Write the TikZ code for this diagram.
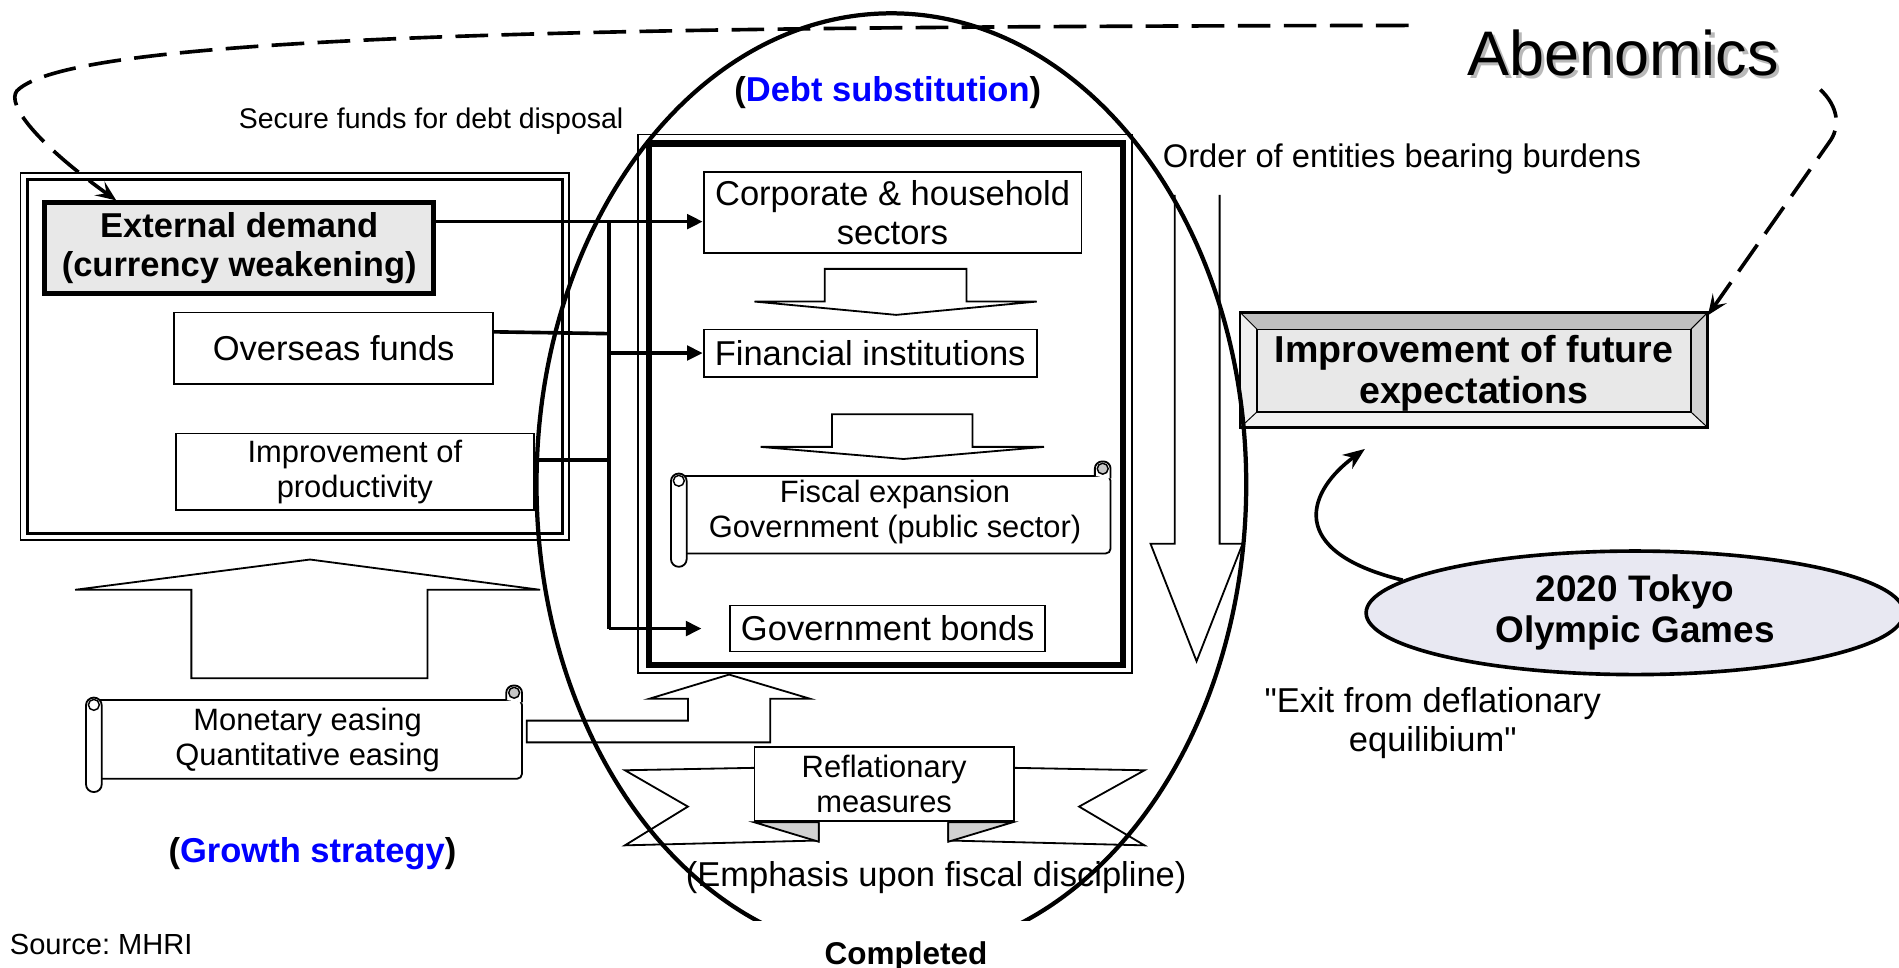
\documentclass[tikz,border=0pt]{standalone}
\usepackage{fontspec}
\setmainfont{Liberation Sans}
\newfontfamily\rawfont{Liberation Sans}[Ligatures=TeXOff]
\usetikzlibrary{arrows.meta,calc,shapes.geometric}

\definecolor{boxgray}{RGB}{232,232,232}
\definecolor{ovalfill}{RGB}{232,232,242}
\definecolor{bluetext}{RGB}{0,0,255}

\newcommand\sizeL{\fontsize{28.5}{32}\selectfont}
\newcommand\sizeM{\fontsize{25.5}{29}\selectfont}
\newcommand\sizeS{\fontsize{23.5}{27}\selectfont}

% horizontal scroll: left, top, right, bottom
\newcommand\drawscroll[4]{%
  \draw[line width=1.5pt, fill=white, rounded corners=4pt]
    (#1+6,#2) -- (#3,#2) -- (#3,#4) -- (#1+6,#4);
  \draw[line width=1.5pt, fill=white, rounded corners=6pt]
    (#3-13,#2) -- (#3-13,#2-12) -- (#3,#2-12) -- (#3,#2+2);
  \draw[line width=1.2pt, fill=gray!45] (#3-6.5,#2-6) circle[radius=4.5pt];
  \draw[line width=1.5pt, fill=white, rounded corners=6.4pt]
    (#1,#2-2) rectangle (#1+13,#4+11);
  \draw[line width=1.2pt] (#1+6.5,#2+4) circle[radius=4.5pt];
}

\begin{document}
\frenchspacing
\begin{tikzpicture}[x=1pt,y=-1pt,
  plainbox/.style={draw, line width=1.5pt, fill=white, inner sep=0pt, align=center, font=\sizeL},
  txt/.style={inner sep=0pt, font=\sizeL},
  conn/.style={line width=3pt, -{Triangle[length=13pt,width=12pt]}},
  bus/.style={line width=3pt},
  hollow/.style={draw, line width=1.5pt, fill=white, line join=miter},
  dashconn/.style={line width=3pt, dash pattern=on 27pt off 11pt,
    -{Stealth[length=17pt,width=14pt,inset=7pt]}},
]
\useasboundingbox (0,0) rectangle (1568,799);
\fill[white] (0,0) rectangle (1568,799);

% ---- frames ----
\draw[line width=1.5pt] (17,143) rectangle (470,446);
\draw[line width=2.5pt] (22.5,148.5) rectangle (464.5,440.5);
\draw[line width=1.5pt] (527,111) rectangle (935,556);
\draw[line width=5pt] (535.5,118.5) rectangle (927.5,549);

% ---- left group ----
\node[plainbox, line width=4pt, fill=boxgray, minimum width=321pt, minimum height=75pt,
      font=\sizeL\bfseries] (ext) at (197.5,205) {External demand\\(currency weakening)};
\node[plainbox, minimum width=263pt, minimum height=59pt] (ovs) at (275.5,287.5) {Overseas funds};
\node[plainbox, minimum width=296pt, minimum height=63pt, font=\sizeM] (prod) at (293,389.5)
      {Improvement of\\productivity};

% ---- central column ----
\node[plainbox, minimum width=312pt, minimum height=67pt] (corp) at (737,175.5)
      {Corporate \& household\\sectors};
\node[plainbox, minimum width=275pt, minimum height=39pt] (fin) at (718.5,291.5) {Financial institutions};
\node[plainbox, minimum width=260pt, minimum height=38pt] (bonds) at (733,519) {Government bonds};

\draw[hollow] (681,222) -- (798,222) -- (798,249) -- (856,249) -- (740,260)
  -- (623,249) -- (681,249) -- cycle;
\draw[hollow] (687,342) -- (803,342) -- (803,369) -- (862,369) -- (746,379)
  -- (628,369) -- (687,369) -- cycle;

\drawscroll{554}{393}{917}{457}
\node[txt, align=center, font=\sizeM] (fisc) at (739,423) {Fiscal expansion\\Government (public sector)};

% ---- big up arrow below the left frame ----
\draw[hollow] (158,560) -- (158,487) -- (62,487) -- (256,462) -- (446,487)
  -- (353,487) -- (353,560) -- cycle;

% ---- monetary easing scroll and its elbow arrow ----
\drawscroll{71}{578}{431}{643}
\node[txt, align=center, font=\sizeM] (mon) at (254,611) {Monetary easing\\Quantitative easing};
\draw[hollow] (435,595) -- (568,595) -- (568,577) -- (536,577) -- (602,557)
  -- (669,577) -- (636,577) -- (636,613) -- (435,613) -- cycle;

% ---- reflationary ribbon ----
\draw[hollow] (623,634) -- (516,636) -- (568,666) -- (516,698) -- (676,694) -- (676,679);
\draw[hollow] (837,634) -- (945,636) -- (891,666) -- (945,698) -- (783,694) -- (783,679);
\draw[line width=1.5pt, fill=gray!35] (623,679) -- (676,679) -- (676,695) -- cycle;
\draw[line width=1.5pt, fill=gray!35] (783,679) -- (836,679) -- (783,695) -- cycle;
\node[plainbox, font=\sizeM, minimum width=214pt, minimum height=61pt] (refl) at (730,647.5)
      {Reflationary\\measures};

% ---- burden order arrow ----
\draw[line width=1.5pt, fill=white] (970,161) -- (970,449) -- (950,449) -- (988,546)
  -- (1026,449) -- (1007,449) -- (1007,161);

% ---- future expectations (bevelled) ----
\fill[gray!12] (1024,258) rectangle (1410,353);
\fill[gray!50] (1024,258) -- (1410,258) -- (1396,272) -- (1038,272) -- cycle;
\fill[gray!35] (1410,258) -- (1410,353) -- (1396,340) -- (1396,272) -- cycle;
\draw[line width=0.8pt] (1024,258) -- (1038,272) (1410,258) -- (1396,272)
  (1024,353) -- (1038,340) (1410,353) -- (1396,340);
\draw[line width=1.5pt, fill=boxgray] (1038,272) rectangle (1396,340);
\draw[line width=2pt] (1024,258) rectangle (1410,353);
\node[txt, align=center, font=\fontsize{31}{34}\selectfont\bfseries,
      minimum width=386pt, minimum height=95pt] (future) at (1217,308)
      {Improvement of future\\expectations};

% ---- Olympic oval ----
\node[ellipse, draw, line width=3pt, fill=ovalfill, minimum width=444pt, minimum height=102pt,
      inner sep=0pt, align=center, font=\fontsize{30.5}{34}\selectfont\bfseries]
      (oly) at (1350,506) {2020 Tokyo\\Olympic Games};
\draw[line width=3pt, -{Stealth[length=18pt,width=14pt]}]
  (oly.172) .. controls (1060,455) and (1080,405) .. ([xshift=-90pt,yshift=-15pt]future.south);

% ---- connectors of the left group ----
\coordinate (busTop) at (503,183);
\coordinate (busBot) at (503,519);
\draw[conn] ([yshift=22pt]ext.east) -- (busTop -| corp.west);
\draw[bus] (busTop) -- (busBot);
\draw[conn] (busTop |- fin.west) -- (fin.west);
\draw[conn] (busBot) -- ([xshift=-23pt]bonds.west);
\draw[bus] ([yshift=13.5pt]ovs.east) -- ++(96,1.5);
\draw[bus] ([yshift=9.5pt]prod.east) -- ++(62,0);

% ---- free texts ----
\node[txt, anchor=base west, font=\sizeS] (secure) at (197,106) {Secure funds for debt disposal};
\node[txt, anchor=base, font=\sizeL\bfseries] (debt) at (733,84)
      {(\textcolor{bluetext}{Debt substitution})};
\node[txt, anchor=base west, font=\fontsize{27}{30}\selectfont] (order) at (960,138)
      {Order of entities bearing burdens};
\node[txt, anchor=base, font=\fontsize{52}{56}\selectfont, text=gray!55] (abshadow) at (1343,65) {Abenomics};
\node[txt, anchor=base, font=\fontsize{52}{56}\selectfont] (abenomics) at (1340,62) {Abenomics};
\node[txt, align=center, font=\sizeL\rawfont] (exit) at (1183,597) {"Exit from deflationary\\equilibium"};
\node[txt, anchor=base] (emph) at (773,732) {(Emphasis upon fiscal discipline)};
\node[txt, anchor=base, font=\fontsize{26}{30}\selectfont\bfseries] (done) at (748,796) {Completed};
\node[txt, anchor=base, font=\sizeL\bfseries] (growth) at (258,712)
      {(\textcolor{bluetext}{Growth strategy})};
\node[txt, anchor=base west, font=\fontsize{24}{28}\selectfont] (src) at (8,788) {Source: MHRI};

% ---- dashed feedback arrows ----
\coordinate (abL) at (1163,21);
\coordinate (abR) at (1503,74);
\draw[dashconn] (abL) .. controls (500,22) and (60,28) .. (14,75)
  .. controls (5,86) and (30,118) .. ([xshift=61pt]ext.north west);
\draw[dashconn] (abR) .. controls (1518,88) and (1520,105) .. (1510,118) -- (future.north east);

% ---- the big ellipse ----
\begin{scope}
  \clip (0,0) rectangle (1568,760);
  \draw[line width=3.5pt] (736,400) ellipse [x radius=293pt, y radius=389pt];
\end{scope}
\end{tikzpicture}
\end{document}
